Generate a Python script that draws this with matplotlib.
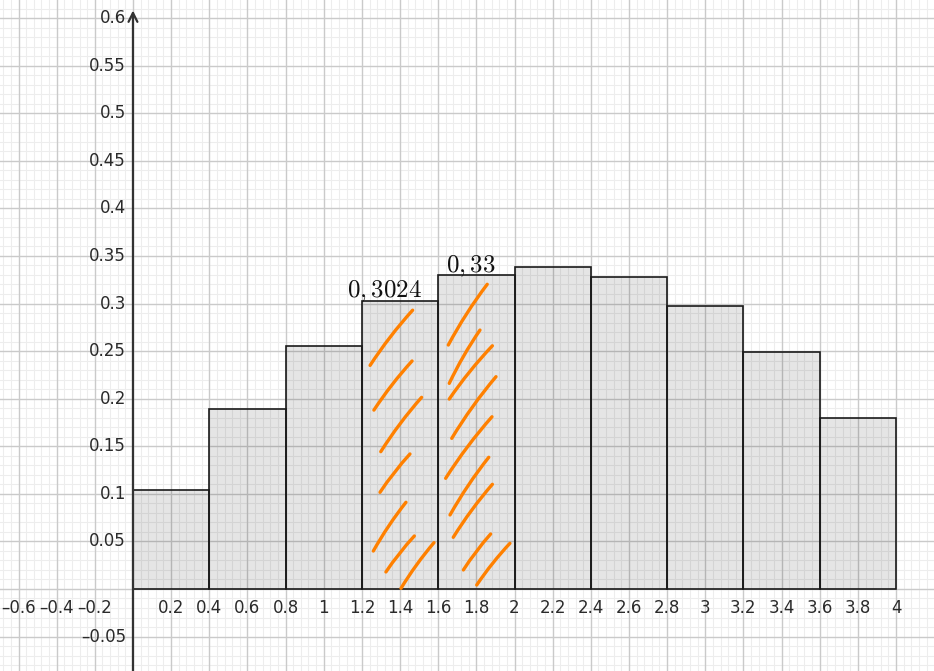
import matplotlib
matplotlib.use("Agg")
import matplotlib.pyplot as plt
from matplotlib.ticker import FixedLocator, MultipleLocator, NullFormatter

plt.rcParams['mathtext.fontset'] = 'cm'

# ---- data ----
bin_left = [0.0, 0.4, 0.8, 1.2, 1.6, 2.0, 2.4, 2.8, 3.2, 3.6]
bin_width = 0.4
heights = [0.104, 0.189, 0.255, 0.3024, 0.33, 0.338, 0.328, 0.297, 0.249, 0.18]

x_ticks = [-0.6, -0.4, -0.2, 0.2, 0.4, 0.6, 0.8, 1, 1.2, 1.4, 1.6, 1.8, 2,
           2.2, 2.4, 2.6, 2.8, 3, 3.2, 3.4, 3.6, 3.8, 4]
x_labels = ['\u20130.6', '\u20130.4', '\u20130.2', '0.2', '0.4', '0.6', '0.8', '1',
            '1.2', '1.4', '1.6', '1.8', '2', '2.2', '2.4', '2.6', '2.8', '3',
            '3.2', '3.4', '3.6', '3.8', '4']
y_ticks = [-0.05, 0.05, 0.1, 0.15, 0.2, 0.25, 0.3, 0.35, 0.4, 0.45, 0.5, 0.55, 0.6]
y_labels = ['\u20130.05', '0.05', '0.1', '0.15', '0.2', '0.25', '0.3', '0.35',
            '0.4', '0.45', '0.5', '0.55', '0.6']

annot_text = [r'$0,3024$', r'$0,33$']
annot_x = [1.321, 1.769]
annot_y = [0.307, 0.333]

# hand-drawn orange strokes (data coords): x0, y0, x1, y1
strokes_x0 = [1.243, 1.263, 1.299, 1.295, 1.260, 1.326, 1.405,
              1.653, 1.658, 1.658, 1.671, 1.639, 1.662, 1.679, 1.732, 1.802]
strokes_y0 = [0.235, 0.188, 0.1443, 0.1016, 0.0399, 0.0179, 0.0007,
              0.2564, 0.2161, 0.1996, 0.1583, 0.1163, 0.0778, 0.0543, 0.0200, 0.0042]
strokes_x1 = [1.466, 1.463, 1.513, 1.452, 1.431, 1.475, 1.578,
              1.857, 1.819, 1.884, 1.903, 1.882, 1.865, 1.884, 1.875, 1.976]
strokes_y1 = [0.293, 0.2396, 0.2014, 0.1419, 0.0911, 0.0557, 0.0487,
              0.3202, 0.2721, 0.2556, 0.2231, 0.1810, 0.1384, 0.1100, 0.0578, 0.0480]

# ---- figure ----
fig = plt.figure(figsize=(9.34, 6.71), dpi=100)
ax = fig.add_axes([0, 0, 1, 1])
ax.set_xlim(-0.697, 4.199)
ax.set_ylim(-0.0862, 0.619)
for s in ax.spines.values():
    s.set_visible(False)

# grid
ax.xaxis.set_minor_locator(MultipleLocator(0.04))
ax.yaxis.set_minor_locator(MultipleLocator(0.01))
ax.xaxis.set_major_locator(FixedLocator(x_ticks))
ax.yaxis.set_major_locator(FixedLocator(y_ticks))
ax.xaxis.set_major_formatter(NullFormatter())
ax.yaxis.set_major_formatter(NullFormatter())
ax.tick_params(which='both', length=0)
ax.grid(which='minor', color='#ededed', linewidth=0.8)
ax.set_axisbelow(True)
for xv in [0.0] + x_ticks:
    ax.axvline(xv, color='#cacaca', linewidth=1.0, zorder=0.6)
for yv in [0.0] + y_ticks:
    ax.axhline(yv, color='#cacaca', linewidth=1.0, zorder=0.6)

# tick labels
for xv, lab in zip(x_ticks, x_labels):
    ax.annotate(lab, xy=(xv, 0), xytext=(0, -7), textcoords='offset points',
                ha='center', va='top', fontsize=12, color='#2a2a2a', zorder=5)
for yv, lab in zip(y_ticks, y_labels):
    ax.annotate(lab, xy=(0, yv), xytext=(-5, 0), textcoords='offset points',
                ha='right', va='center', fontsize=12, color='#2a2a2a', zorder=5)

# axes with arrows
ax.annotate('', xy=(4.215, 0), xytext=(-0.697, 0),
            arrowprops=dict(arrowstyle='->', color='#333333', lw=1.6,
                            mutation_scale=16, shrinkA=0, shrinkB=0), zorder=4)
ax.annotate('', xy=(0, 0.608), xytext=(0, -0.0862),
            arrowprops=dict(arrowstyle='->', color='#333333', lw=1.6,
                            mutation_scale=16, shrinkA=0, shrinkB=0), zorder=4)

# bars
ax.bar(bin_left, heights, width=bin_width, align='edge',
       facecolor=(0, 0, 0, 0.10), edgecolor='#1a1a1a', linewidth=1.2, zorder=2)

# annotations
for t, x, y in zip(annot_text, annot_x, annot_y):
    ax.text(x, y, t, fontsize=18, ha='center', va='baseline', color='#111111', zorder=5)

# orange strokes
for x0, y0, x1, y1 in zip(strokes_x0, strokes_y0, strokes_x1, strokes_y1):
    ax.annotate('', xy=(x1, y1), xytext=(x0, y0),
                arrowprops=dict(arrowstyle='-', connectionstyle='arc3,rad=-0.04',
                                color='#ff8000', lw=2.4, shrinkA=0, shrinkB=0,
                                capstyle='round'), zorder=6)

fig.savefig('out.png', dpi=100)
